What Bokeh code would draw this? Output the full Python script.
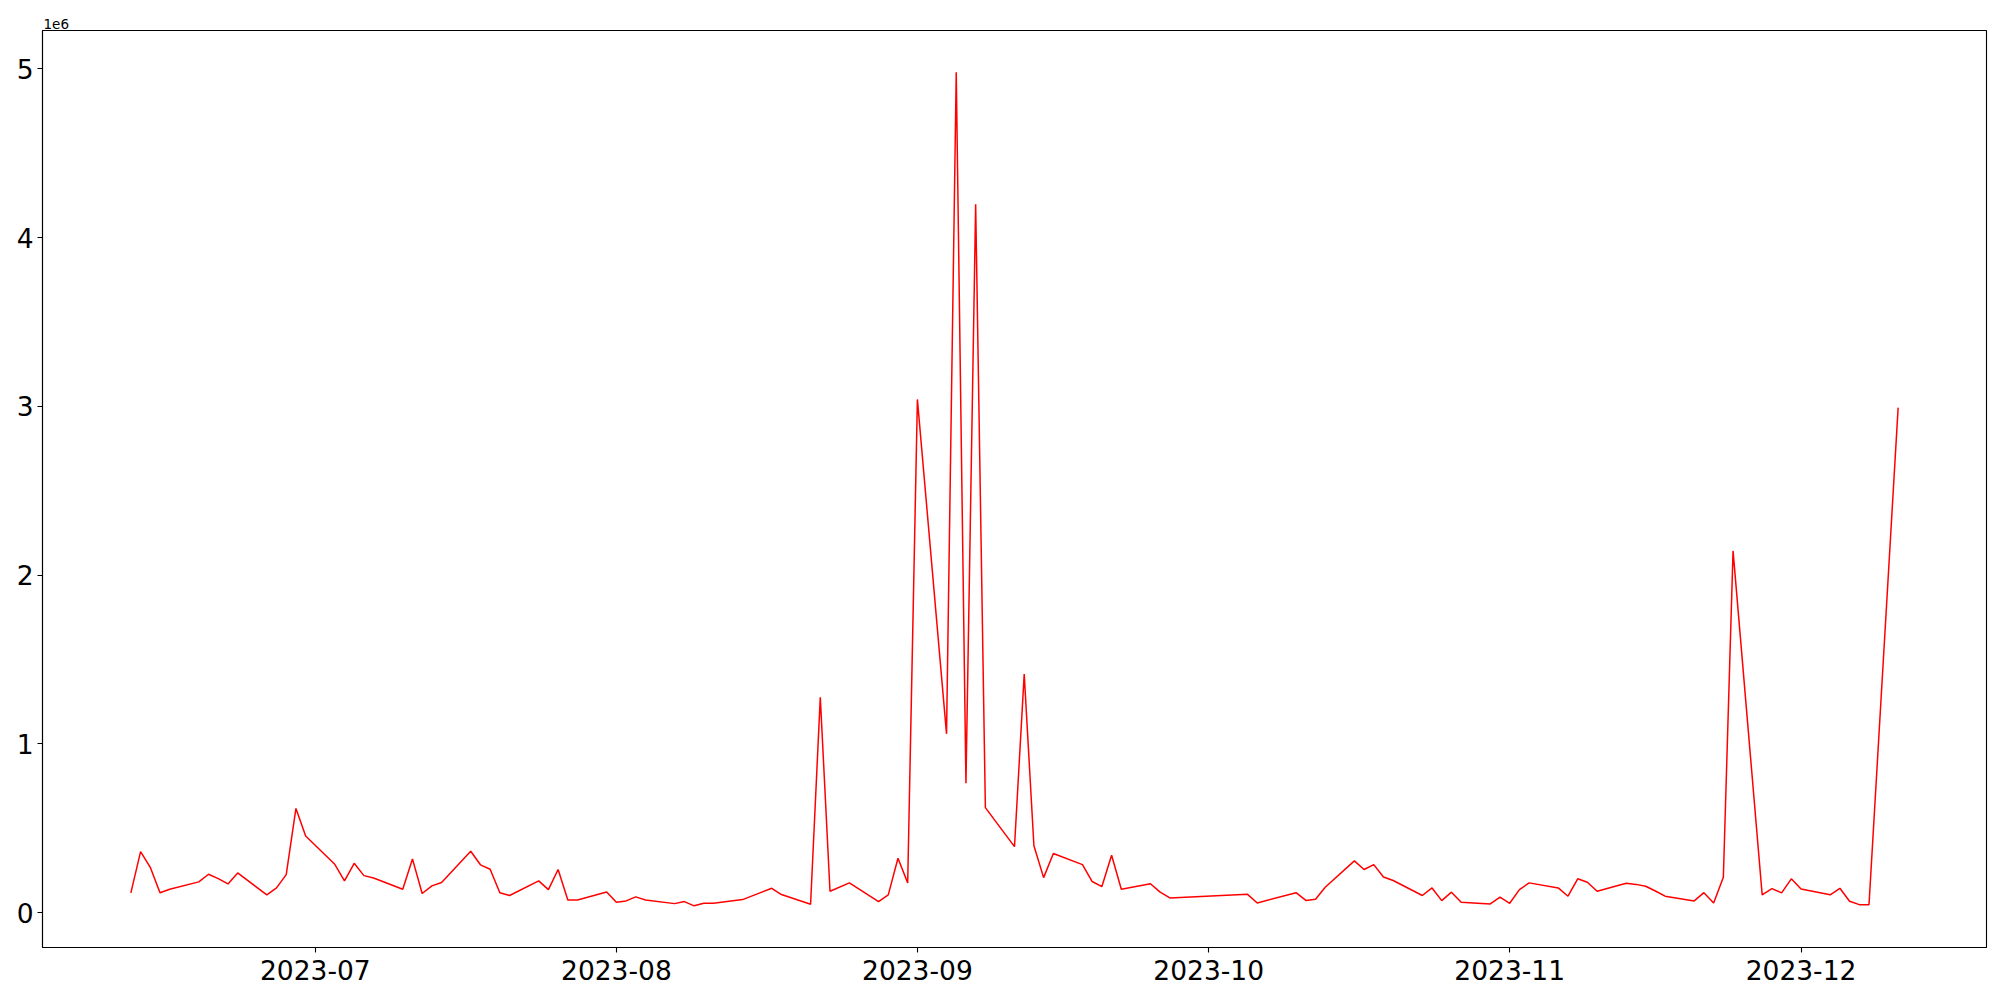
import pandas as pd
from bokeh.plotting import figure
from bokeh.models import FixedTicker, DatetimeTickFormatter, Range1d
from bokeh.embed import file_html
from bokeh.resources import INLINE

dates = [
    "2023-06-12", "2023-06-13", "2023-06-14", "2023-06-15", "2023-06-16",
    "2023-06-19", "2023-06-20", "2023-06-21", "2023-06-22", "2023-06-23",
    "2023-06-26", "2023-06-27", "2023-06-28", "2023-06-29", "2023-06-30",
    "2023-07-03", "2023-07-04", "2023-07-05", "2023-07-06", "2023-07-07",
    "2023-07-10", "2023-07-11", "2023-07-12", "2023-07-13", "2023-07-14",
    "2023-07-17", "2023-07-18", "2023-07-19", "2023-07-20", "2023-07-21",
    "2023-07-24", "2023-07-25", "2023-07-26", "2023-07-27", "2023-07-28",
    "2023-07-31", "2023-08-01", "2023-08-02", "2023-08-03", "2023-08-04",
    "2023-08-07", "2023-08-08", "2023-08-09", "2023-08-10", "2023-08-11",
    "2023-08-14", "2023-08-17", "2023-08-18",
    "2023-08-21", "2023-08-22", "2023-08-23", "2023-08-25",
    "2023-08-28", "2023-08-29", "2023-08-30", "2023-08-31", "2023-09-01",
    "2023-09-04", "2023-09-05", "2023-09-06", "2023-09-07", "2023-09-08",
    "2023-09-11", "2023-09-12", "2023-09-13", "2023-09-14", "2023-09-15",
    "2023-09-18", "2023-09-19", "2023-09-20", "2023-09-21", "2023-09-22",
    "2023-09-25", "2023-09-26", "2023-09-27",
    "2023-10-05", "2023-10-06",
    "2023-10-10", "2023-10-11", "2023-10-12", "2023-10-13",
    "2023-10-16", "2023-10-17", "2023-10-18", "2023-10-19", "2023-10-20",
    "2023-10-23", "2023-10-24", "2023-10-25", "2023-10-26", "2023-10-27",
    "2023-10-30", "2023-10-31", "2023-11-01", "2023-11-02", "2023-11-03",
    "2023-11-06", "2023-11-07", "2023-11-08", "2023-11-09", "2023-11-10",
    "2023-11-13", "2023-11-14", "2023-11-15", "2023-11-16", "2023-11-17",
    "2023-11-20", "2023-11-21", "2023-11-22", "2023-11-23", "2023-11-24",
    "2023-11-27", "2023-11-28", "2023-11-29", "2023-11-30", "2023-12-01",
    "2023-12-04", "2023-12-05", "2023-12-06", "2023-12-07", "2023-12-08",
    "2023-12-11",
]

values = [
    117000, 361000, 268000, 117000, 138000,
    182000, 227000, 201000, 170000, 235000,
    105000, 146000, 225000, 617000, 454000,
    286000, 188000, 292000, 219000, 205000,
    138000, 318000, 113000, 158000, 178000,
    363000, 283000, 257000, 117000, 101000,
    188000, 136000, 255000, 75000, 75000,
    122000, 61000, 69000, 93000, 75000,
    53000, 65000, 40000, 55000, 55000,
    77000, 144000, 107000,
    49000, 1276000, 126000, 176000,
    65000, 105000, 322000, 176000, 3041000,
    1059000, 4980000, 766000, 4198000, 622000,
    391000, 1414000, 396000, 207000, 350000,
    284000, 184000, 154000, 340000, 138000,
    171000, 121000, 87000,
    108000, 57000,
    118000, 72000, 79000, 150000,
    306000, 255000, 284000, 211000, 190000,
    101000, 146000, 71000, 121000, 61000,
    51000, 91000, 55000, 136000, 176000,
    146000, 97000, 200000, 180000, 126000,
    174000, 167000, 156000, 128000, 97000,
    69000, 118000, 57000, 209000, 2143000,
    105000, 142000, 117000, 200000, 140000,
    105000, 144000, 67000, 47000, 47000,
    2992000,
]

x_ticks = ["2023-07-01", "2023-08-01", "2023-09-01", "2023-10-01", "2023-11-01", "2023-12-01"]
y_ticks = [0, 1000000, 2000000, 3000000, 4000000, 5000000]
y_tick_labels = ["0", "1", "2", "3", "4", "5"]
offset_text = "1e6"

x = pd.to_datetime(dates)
xs_ms = [t.value / 1e6 for t in x]

span_x = xs_ms[-1] - xs_ms[0]
x0 = xs_ms[0] - 0.05 * span_x
x1 = xs_ms[-1] + 0.05 * span_x
span_y = max(values) - min(values)
y0 = min(values) - 0.05 * span_y
y1 = max(values) + 0.05 * span_y

p = figure(
    width=1992, height=992,
    x_axis_type="datetime",
    x_range=Range1d(x0, x1), y_range=Range1d(y0, y1),
    output_backend="svg", toolbar_location=None,
    min_border_left=42, min_border_right=6, min_border_top=30, min_border_bottom=45,
    title=offset_text,
)

p.title.align = "left"
p.title.text_font = "DejaVu Sans"
p.title.text_font_size = "13.5px"
p.title.text_font_style = "normal"
p.title.text_color = "black"
p.title.standoff = 4
p.title.offset = 1

p.line(x, values, line_color="#ff0000", line_width=1.5)

p.xgrid.visible = False
p.ygrid.visible = False
p.outline_line_color = "black"
p.outline_line_width = 1.1
p.outline_line_alpha = 1.0

tick_ms = [pd.Timestamp(t).value / 1e6 for t in x_ticks]
p.xaxis.ticker = FixedTicker(ticks=tick_ms)
p.xaxis.formatter = DatetimeTickFormatter(days="%Y-%m", months="%Y-%m", years="%Y-%m")
p.yaxis.ticker = FixedTicker(ticks=y_ticks)
p.yaxis.major_label_overrides = {t: l for t, l in zip(y_ticks, y_tick_labels)}

for ax in (p.xaxis, p.yaxis):
    ax.major_label_text_font = "DejaVu Sans"
    ax.major_label_text_font_size = "26.5px"
    ax.major_label_text_color = "black"
    ax.major_tick_line_color = "black"
    ax.major_tick_line_width = 1.1
    ax.major_tick_out = 5
    ax.major_tick_in = 0
    ax.minor_tick_line_color = None
    ax.axis_line_color = "black"
    ax.axis_line_width = 1.1

p.xaxis.major_label_standoff = 7
p.yaxis.major_label_standoff = 4

open("out.html", "w").write(file_html(p, INLINE))
